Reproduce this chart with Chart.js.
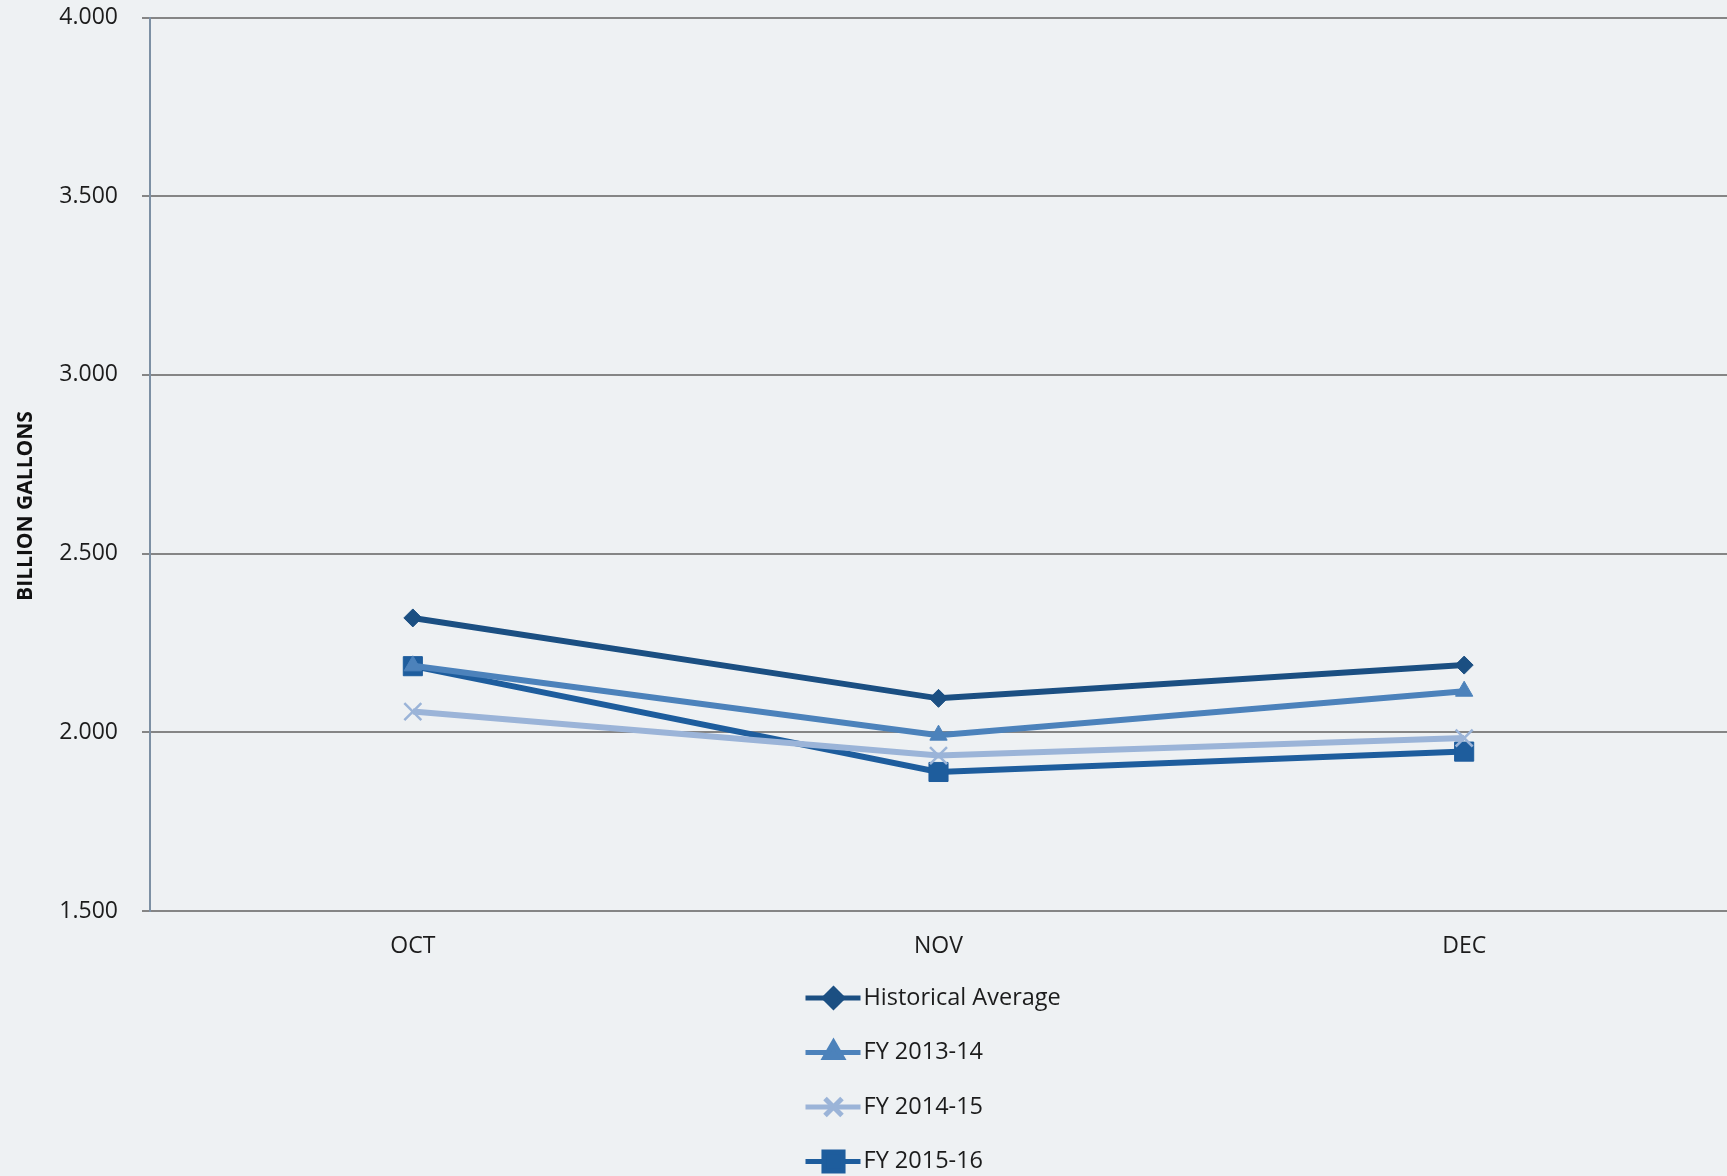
<!DOCTYPE html>
<html>
<head>
<meta charset="utf-8">
<script src="https://cdn.jsdelivr.net/npm/chart.js@4/dist/chart.umd.min.js"></script>
<style>
  html, body { margin: 0; padding: 0; background: #eef1f3; overflow: hidden; }
  #wrap { width: 1727px; height: 1176px; position: relative; }
  #wrap canvas { display: block; }
</style>
</head>
<body>
<div id="wrap"><canvas id="gallons-chart"></canvas></div>
<script>
// Monthly volume, billion gallons
const months = ["OCT", "NOV", "DEC"];
const historicalAverage = [2.320, 2.095, 2.188];
const fy201314 = [2.186, 1.992, 2.115];
const fy201415 = [2.058, 1.935, 1.984];
const fy201516 = [2.185, 1.889, 1.946];
const yTicks = [1.5, 2.0, 2.5, 3.0, 3.5, 4.0];
const yTitle = "BILLION GALLONS";

const FONT = "'Open Sans', 'DejaVu Sans', sans-serif";

// Stacked legend under the plot (one series per row) and the rotated axis title
const rowLegend = {
  id: "rowLegend",
  afterDraw(chart) {
    const ctx = chart.ctx;
    const cx = chart.width / 2;
    ctx.save();
    chart.data.datasets.forEach((ds, i) => {
      const y = 998 + i * 54.5;
      ctx.strokeStyle = ds.borderColor;
      ctx.lineWidth = 5;
      ctx.beginPath();
      ctx.moveTo(cx - 58, y);
      ctx.lineTo(cx - 3, y);
      ctx.stroke();
      ctx.fillStyle = ds.pointBackgroundColor;
      ctx.strokeStyle = ds.pointBorderColor;
      Chart.helpers.drawPoint(ctx, {
        pointStyle: ds.pointStyle,
        radius: ds.pointRadius,
        borderWidth: ds.pointBorderWidth,
        rotation: 0
      }, cx - 30, y);
      ctx.fillStyle = "#1c1c1c";
      ctx.font = "23.5px " + FONT;
      ctx.textAlign = "left";
      ctx.textBaseline = "middle";
      ctx.fillText(ds.label, cx, y);
    });

    ctx.translate(26.5, 506);
    ctx.rotate(-Math.PI / 2);
    ctx.fillStyle = "#111";
    ctx.font = "bold 21px " + FONT;
    ctx.textAlign = "center";
    ctx.textBaseline = "middle";
    ctx.fillText(yTitle, 0, 0);
    ctx.restore();
  }
};

function series(label, data, color, style, radius, borderWidth) {
  return {
    label: label,
    data: data,
    borderColor: color,
    backgroundColor: color,
    borderWidth: 6,
    tension: 0,
    pointStyle: style,
    pointRadius: radius,
    pointHoverRadius: radius,
    pointBackgroundColor: color,
    pointBorderColor: color,
    pointBorderWidth: borderWidth
  };
}

new Chart(document.querySelector("#gallons-chart").getContext("2d"), {
  type: "line",
  data: {
    labels: months,
    datasets: [
      series("Historical Average", historicalAverage, "#1b4f82", "rectRot", 9, 1),
      series("FY 2013-14", fy201314, "#4c82bb", "triangle", 10, 1),
      series("FY 2014-15", fy201415, "#9bb4d8", "crossRot", 12, 2.5),
      series("FY 2015-16", fy201516, "#1e5d9d", "rect", 13.5, 1)
    ]
  },
  options: {
    responsive: true,
    maintainAspectRatio: false,
    animation: false,
    layout: { autoPadding: false, padding: { top: 17.5, right: 0, bottom: 0, left: 0 } },
    plugins: {
      legend: { display: false },
      tooltip: { enabled: false }
    },
    scales: {
      x: {
        offset: true,
        grid: { display: false, drawTicks: false },
        border: { display: false },
        ticks: {
          padding: 22,
          color: "#1c1c1c",
          font: { family: FONT, size: 23 }
        },
        afterFit(scale) {
          scale.height = 265;
          scale.paddingLeft = 0;
          scale.paddingRight = 0;
        }
      },
      y: {
        min: 1.5,
        max: 4.0,
        afterBuildTicks(scale) {
          scale.ticks = yTicks.map((v) => ({ value: v }));
        },
        grid: {
          color: "#858585",
          lineWidth: 2,
          tickLength: 8,
          drawTicks: true
        },
        border: { display: true, color: "#7d90a4", width: 2 },
        ticks: {
          padding: 24,
          color: "#1c1c1c",
          font: { family: FONT, size: 23 },
          callback: (v) => Number(v).toFixed(3)
        },
        afterFit(scale) {
          scale.width = 150;
          scale.paddingTop = 0;
          scale.paddingBottom = 0;
        }
      }
    }
  },
  plugins: [rowLegend]
});
</script>
</body>
</html>
